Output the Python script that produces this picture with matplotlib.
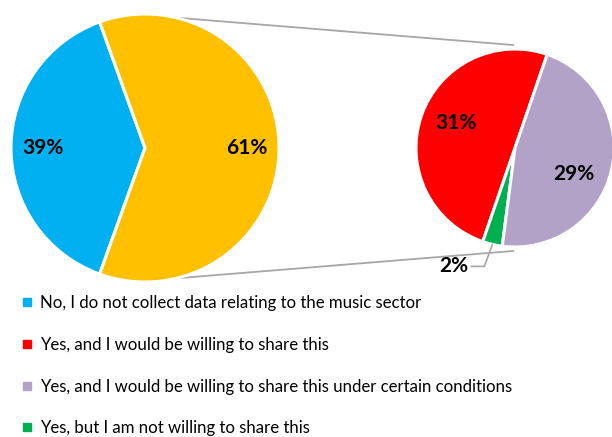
import matplotlib
matplotlib.use("Agg")
import matplotlib.pyplot as plt
import numpy as np
from matplotlib.lines import Line2D

plt.rcParams["font.family"] = ["Lato", "DejaVu Sans"]

# first pie
main_labels = ["No, I do not collect data relating to the music sector", "Yes"]
main_values = [39, 61]
main_colors = ["#00B0F0", "#FFC000"]

# second pie, breaking down the "Yes" slice
sub_labels = [
    "Yes, and I would be willing to share this",
    "Yes, but I am not willing to share this",
    "Yes, and I would be willing to share this under certain conditions",
]
sub_values = [31, 2, 29]
sub_colors = ["#FF0000", "#00B050", "#B3A2C7"]

legend_labels = [
    "No, I do not collect data relating to the music sector",
    "Yes, and I would be willing to share this",
    "Yes, and I would be willing to share this under certain conditions",
    "Yes, but I am not willing to share this",
]
legend_colors = ["#00B0F0", "#FF0000", "#B3A2C7", "#00B050"]

W, H = 612, 437
fig = plt.figure(figsize=(W / 100, H / 100), dpi=100)
ax = fig.add_axes([0, 0, 1, 1])

c1, r1 = (145, 289), 134
c2, r2 = (515, 289), 99
pct_font = dict(fontsize=15, fontweight="bold", color="black")

wedge_kw = dict(edgecolor="white", linewidth=2.2)
start1 = 180 - main_values[0] / sum(main_values) * 180
ax.pie(main_values, colors=main_colors, center=c1, radius=r1, startangle=start1,
       wedgeprops=wedge_kw, frame=True,
       autopct=lambda p: f"{p:.0f}%", pctdistance=0.76, textprops=pct_font)

wedges2, _ = ax.pie(sub_values, colors=sub_colors, center=c2, radius=r2, startangle=71,
                    wedgeprops=wedge_kw, frame=True)
ax.set_xlim(0, W)
ax.set_ylim(0, H)
ax.set_aspect("equal")
ax.axis("off")

# labels of the second pie (angle in degrees, distance as fraction of radius)
sub_label_pos = [(157, 0.65), None, (-24, 0.65)]
for val, pos in zip(sub_values, sub_label_pos):
    if pos is None:
        continue
    a, d = np.deg2rad(pos[0]), pos[1] * r2
    ax.text(c2[0] + d * np.cos(a), c2[1] + d * np.sin(a), f"{val}%",
            ha="center", va="center", **pct_font)

# small slice label with leader line
w = wedges2[1]
mid = np.deg2rad((w.theta1 + w.theta2) / 2)
px, py = c2[0] + r2 * np.cos(mid), c2[1] + r2 * np.sin(mid)
ax.plot([px, px - 8, px - 21], [py, py - 22, py - 22], color="#A6A6A6", lw=1.2)
ax.text(px - 24, py - 22, f"{sub_values[1]}%", ha="right", va="center", **pct_font)

# connector lines between the pies
for s in (1, -1):
    a = np.deg2rad(76.5 * s)
    x0, y0 = c1[0] + r1 * np.cos(a), c1[1] + r1 * np.sin(a)
    x1, y1 = c2[0] - 2, c2[1] + s * (r2 + 4)
    ax.plot([x0, x1], [y0, y1], color="#A6A6A6", lw=1.3, zorder=0)

handles = [Line2D([], [], marker="s", ls="none", markersize=5.5,
                  markerfacecolor=c, markeredgecolor=c) for c in legend_colors]
ax.legend(handles, legend_labels, loc="upper left", bbox_to_anchor=(22 / W, 1 - 295 / H),
          frameon=False, fontsize=12.05, handlelength=0.6, handletextpad=0.5,
          labelspacing=1.54, borderpad=0, borderaxespad=0)

fig.savefig("out.png", dpi=100)
